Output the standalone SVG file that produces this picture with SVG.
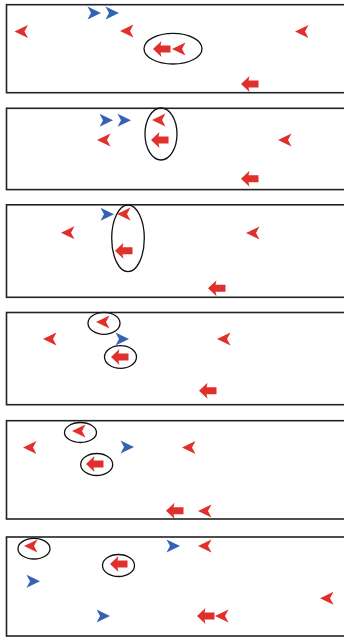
<svg xmlns="http://www.w3.org/2000/svg" xmlns:xlink="http://www.w3.org/1999/xlink" width="344" height="637" viewBox="0 0 344 637">
<style>
.panel{fill:#fff;stroke:#222;stroke-width:1.6}
.ring{fill:none;stroke:#111;stroke-width:1.3}
.red{fill:#e0302c}
.blue{fill:#3562b5}
</style>
<defs>
<path id="chevL" d="M-7,0 L6.5,-6.5 L3,0 L6.5,6.5 Z"/>
<path id="chevR" d="M7,0 L-6.5,-6.5 L-3,0 L-6.5,6.5 Z"/>
<path id="arrowL" d="M-9,0 L-0.5,-8 L-1.5,-3.5 L8.5,-3.5 L8.5,3.5 L-1.5,3.5 L-0.5,8 Z"/>
</defs>
<rect width="344" height="637" fill="#fff"/>
<g id="panel1">
<rect class="panel" x="6.5" y="4.7" width="350" height="88"/>
<use href="#chevL" class="red" x="21.5" y="31.5"/>
<use href="#chevR" class="blue" x="94" y="13"/>
<use href="#chevR" class="blue" x="112" y="13"/>
<use href="#chevL" class="red" x="127" y="31"/>
<ellipse class="ring" cx="173" cy="48.7" rx="29" ry="15.3"/>
<use href="#arrowL" class="red" x="162" y="49"/>
<use href="#chevL" class="red" x="179" y="49"/>
<use href="#chevL" class="red" x="302" y="31.5"/>
<use href="#arrowL" class="red" x="250" y="84"/>
</g>
<g id="panel2">
<rect class="panel" x="6.5" y="108.3" width="350" height="81.3"/>
<use href="#chevR" class="blue" x="106" y="120.3"/>
<use href="#chevR" class="blue" x="124" y="120.3"/>
<use href="#chevL" class="red" x="159" y="120"/>
<ellipse class="ring" cx="161" cy="134" rx="16" ry="26"/>
<use href="#arrowL" class="red" x="160" y="140"/>
<use href="#chevL" class="red" x="104" y="140"/>
<use href="#chevL" class="red" x="285" y="140"/>
<use href="#arrowL" class="red" x="250" y="178.7"/>
</g>
<g id="panel3">
<rect class="panel" x="6.5" y="204.8" width="350" height="92.5"/>
<use href="#chevR" class="blue" x="107" y="214.3"/>
<use href="#chevL" class="red" x="124" y="214"/>
<ellipse class="ring" cx="128" cy="238.3" rx="16.3" ry="33.3"/>
<use href="#arrowL" class="red" x="124" y="250.8"/>
<use href="#chevL" class="red" x="68" y="232.8"/>
<use href="#chevL" class="red" x="253" y="233"/>
<use href="#arrowL" class="red" x="217" y="288.3"/>
</g>
<g id="panel4">
<rect class="panel" x="6.5" y="312.5" width="350" height="92.2"/>
<ellipse class="ring" cx="104" cy="323.3" rx="16" ry="11"/>
<use href="#chevL" class="red" x="103" y="322"/>
<use href="#chevR" class="blue" x="122" y="339"/>
<use href="#chevL" class="red" x="50" y="339"/>
<use href="#chevL" class="red" x="224" y="339"/>
<ellipse class="ring" cx="120.5" cy="357" rx="16" ry="11.3"/>
<use href="#arrowL" class="red" x="120" y="357"/>
<use href="#arrowL" class="red" x="208" y="390.8"/>
</g>
<g id="panel5">
<rect class="panel" x="6.5" y="420.7" width="350" height="98.3"/>
<ellipse class="ring" cx="80.5" cy="432.5" rx="16" ry="10"/>
<use href="#chevL" class="red" x="79" y="431"/>
<use href="#chevL" class="red" x="30" y="447.5"/>
<use href="#chevR" class="blue" x="127" y="447"/>
<use href="#chevL" class="red" x="189" y="447.5"/>
<ellipse class="ring" cx="96.7" cy="464.5" rx="16" ry="11"/>
<use href="#arrowL" class="red" x="95" y="464"/>
<use href="#arrowL" class="red" x="175" y="510.8"/>
<use href="#chevL" class="red" x="205" y="511"/>
</g>
<g id="panel6">
<rect class="panel" x="6.5" y="537" width="350" height="99"/>
<ellipse class="ring" cx="34" cy="548.7" rx="16" ry="10.3"/>
<use href="#chevL" class="red" x="31" y="546"/>
<use href="#chevR" class="blue" x="173" y="546"/>
<use href="#chevL" class="red" x="205" y="546"/>
<ellipse class="ring" cx="118.5" cy="565.5" rx="16" ry="11"/>
<use href="#arrowL" class="red" x="119" y="564"/>
<use href="#chevR" class="blue" x="33" y="581.3"/>
<use href="#chevL" class="red" x="327" y="598.3"/>
<use href="#chevR" class="blue" x="103" y="616"/>
<use href="#arrowL" class="red" x="206" y="616"/>
<use href="#chevL" class="red" x="222" y="616"/>
</g>
<g id="connectors"/>
</svg>
